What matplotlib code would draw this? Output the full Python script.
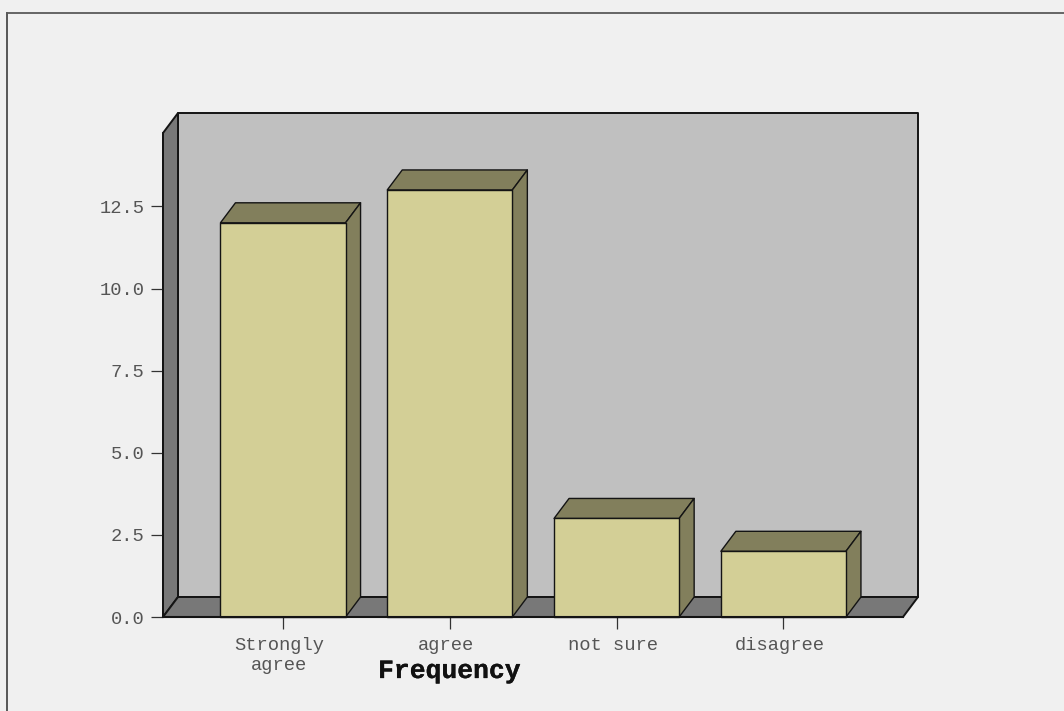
import matplotlib
matplotlib.use("Agg")
import matplotlib.pyplot as plt
import matplotlib.patheffects as pe
from matplotlib.patches import Polygon
from matplotlib.transforms import ScaledTranslation

categories = ["Strongly\nagree", "agree", "not sure", "disagree"]
frequency = [12, 13, 3, 2]
y_ticks = [0.0, 2.5, 5.0, 7.5, 10.0, 12.5]

W, H = 1064, 711
DEPTH_X, DEPTH_Y = 15, 20   # 3d depth in pixels
BAR_WIDTH = 0.75
EDGE = "#141414"

plt.rcParams["font.family"] = ["Liberation Mono", "DejaVu Sans Mono"]

fig = plt.figure(figsize=(W / 100, H / 100), dpi=100, facecolor="#f0f0f0")

# plot area in pixels
left, right, bottom, top = 163, 903, 617, 133
ax = fig.add_axes([left / W, 1 - bottom / H, (right - left) / W, (bottom - top) / H])
ax.patch.set_visible(False)

unit_x = 166.8
unit_y = 32.85
x0 = (left - 283.0) / unit_x
x1 = (right - 283.0) / unit_x
y_top = (bottom - top) / unit_y
ax.set_xlim(x0, x1)
ax.set_ylim(0, y_top)

dx = DEPTH_X / unit_x
dy = DEPTH_Y / unit_y


def face(points, color, lw=1.3, z=1):
    ax.add_patch(Polygon(points, closed=True, facecolor=color, edgecolor=EDGE,
                         linewidth=lw, joinstyle="round", zorder=z, clip_on=False))


# back wall, side wall and floor
face([(x0 + dx, dy), (x1 + dx, dy), (x1 + dx, y_top + dy), (x0 + dx, y_top + dy)], "#c0c0c0", 1.4)
face([(x0, 0), (x0 + dx, dy), (x0 + dx, y_top + dy), (x0, y_top)], "#787878", 1.4)
face([(x0, 0), (x1, 0), (x1 + dx, dy), (x0 + dx, dy)], "#787878", 1.4)

# bars
for i, v in enumerate(frequency):
    a = i - BAR_WIDTH / 2
    b = i + BAR_WIDTH / 2
    face([(a, v), (b, v), (b + dx, v + dy), (a + dx, v + dy)], "#827f5c", 1.0, 3)
    face([(b, 0), (b + dx, dy), (b + dx, v + dy), (b, v)], "#827f5c", 1.0, 3)
    face([(a, 0), (b, 0), (b, v), (a, v)], "#d3cf96", 1.0, 4)

for name in ["top", "right"]:
    ax.spines[name].set_visible(False)
ax.spines["left"].set_color(EDGE)
ax.spines["bottom"].set_color(EDGE)
ax.spines["left"].set_linewidth(1.3)
ax.spines["bottom"].set_linewidth(1.5)
ax.spines["bottom"].set_zorder(5)

ax.set_xticks(range(len(categories)))
ax.set_xticklabels(categories, fontsize=13.5, color="#555555", linespacing=1.22)
ax.set_yticks(y_ticks)
ax.set_yticklabels([f"{t:.1f}" for t in y_ticks], fontsize=13.5, color="#555555")
ax.tick_params(axis="both", length=8.5, width=0.9, color="#333333", pad=5)
ax.tick_params(axis="x", pad=6.2)

# category labels sit slightly left of their ticks
shift = ScaledTranslation(-3.5 / 100, 0, fig.dpi_scale_trans)
for lab in ax.get_xticklabels():
    lab.set_transform(lab.get_transform() + shift)

ax.set_xlabel("Frequency", fontsize=19, fontweight="bold", color="#111111",
              path_effects=[pe.withStroke(linewidth=0.2, foreground="#111111")])
ax.xaxis.set_label_coords((449.5 - left) / (right - left), -(659 - bottom) / (bottom - top))
ax.xaxis.label.set_verticalalignment("top")

# outer frame, only top and left are drawn
fig.add_artist(plt.Line2D([7 / W, 7 / W], [0, 1 - 13 / H], color="#4a4a4a", lw=1.3))
fig.add_artist(plt.Line2D([7 / W, 1], [1 - 13 / H, 1 - 13 / H], color="#5a5a5a", lw=1.3))

fig.savefig("out.png", dpi=100, facecolor=fig.get_facecolor())
